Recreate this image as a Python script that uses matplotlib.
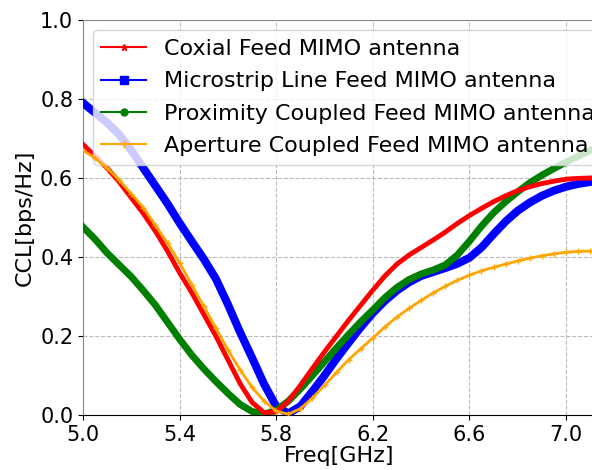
import numpy as np
import matplotlib
matplotlib.use("Agg")
from matplotlib import pyplot as plt
from matplotlib.lines import Line2D

# frequency points (GHz)
freq = [5.00, 5.05, 5.10, 5.15, 5.20, 5.25, 5.30, 5.35, 5.40, 5.45, 5.50,
        5.55, 5.60, 5.65, 5.70, 5.75, 5.80, 5.85, 5.90, 5.95, 6.00, 6.05,
        6.10, 6.15, 6.20, 6.25, 6.30, 6.35, 6.40, 6.45, 6.50, 6.55, 6.60,
        6.65, 6.70, 6.75, 6.80, 6.85, 6.90, 6.95, 7.00, 7.05, 7.10]

ccl_coax = [0.685, 0.655, 0.625, 0.59, 0.55, 0.51, 0.465, 0.415, 0.36, 0.31, 0.255,
            0.20, 0.14, 0.08, 0.032, 0.006, 0.008, 0.035, 0.075, 0.118, 0.16, 0.20,
            0.24, 0.278, 0.316, 0.352, 0.382, 0.405, 0.424, 0.443, 0.463, 0.485, 0.505,
            0.523, 0.54, 0.555, 0.568, 0.578, 0.586, 0.592, 0.597, 0.599, 0.60]

ccl_micro = [0.79, 0.765, 0.74, 0.71, 0.67, 0.625, 0.58, 0.535, 0.486, 0.44, 0.395,
             0.345, 0.28, 0.21, 0.145, 0.078, 0.022, 0.004, 0.022, 0.06, 0.10, 0.143,
             0.183, 0.222, 0.258, 0.289, 0.315, 0.336, 0.352, 0.362, 0.372, 0.383, 0.398,
             0.424, 0.458, 0.49, 0.517, 0.538, 0.555, 0.568, 0.578, 0.585, 0.59]

ccl_prox = [0.476, 0.445, 0.41, 0.38, 0.35, 0.315, 0.278, 0.235, 0.192, 0.152, 0.117,
            0.085, 0.055, 0.027, 0.009, 0.002, 0.012, 0.035, 0.066, 0.10, 0.135, 0.17,
            0.204, 0.236, 0.266, 0.297, 0.323, 0.343, 0.357, 0.367, 0.38, 0.405, 0.44,
            0.478, 0.512, 0.54, 0.565, 0.588, 0.607, 0.624, 0.64, 0.655, 0.67]

ccl_aper = [0.67, 0.65, 0.625, 0.595, 0.56, 0.525, 0.48, 0.435, 0.385, 0.33, 0.275,
            0.22, 0.165, 0.115, 0.07, 0.035, 0.01, 0.002, 0.016, 0.043, 0.075, 0.108,
            0.14, 0.168, 0.195, 0.223, 0.248, 0.27, 0.29, 0.309, 0.326, 0.341, 0.354,
            0.365, 0.374, 0.382, 0.39, 0.397, 0.403, 0.408, 0.412, 0.414, 0.415]

labels = ["Coxial Feed MIMO antenna", "Microstrip Line Feed MIMO antenna",
          "Proximity Coupled Feed MIMO antenna", "Aperture Coupled Feed MIMO antenna"]
xticks = [5.0, 5.4, 5.8, 6.2, 6.6, 7.0]
yticks = [0.0, 0.2, 0.4, 0.6, 0.8, 1.0]

fig = plt.figure(figsize=(5.92, 4.70), dpi=100)
ax = fig.add_axes([83/592, 55/470, 512/592, 395/470])

ax.plot(freq, ccl_micro, color="blue", lw=5.8, solid_joinstyle="round", zorder=3)
ax.plot(freq, ccl_prox, color="green", lw=5.0, solid_joinstyle="round", zorder=4)
ax.plot(freq, ccl_coax, color="red", lw=3.5, solid_joinstyle="round", zorder=5)
ax.plot(freq, ccl_aper, color="orange", lw=2.0, marker="+", ms=5, zorder=6)

ax.set_xlim(5.0, 7.12)
ax.set_ylim(0.0, 1.0)
ax.set_xticks(xticks)
ax.set_yticks(yticks)
ax.tick_params(labelsize=15)
ax.grid(True, linestyle="--", color="#bbbbbb", linewidth=0.8)
ax.set_xlabel("Freq[GHz]", fontsize=16, labelpad=1)
ax.set_ylabel("CCL[bps/Hz]", fontsize=16)
for s in ["left", "top"]:
    ax.spines[s].set_color("#888888")

handles = [Line2D([], [], color="red", marker="*", ms=5),
           Line2D([], [], color="blue", marker="s", ms=6),
           Line2D([], [], color="green", marker="o", ms=5),
           Line2D([], [], color="orange", marker="+", ms=6)]
leg = ax.legend(handles, labels, loc="upper left", bbox_to_anchor=(0.01, 0.985),
                fontsize=16, framealpha=0.8, borderaxespad=0.2, labelspacing=0.55)
leg.get_frame().set_edgecolor("#cccccc")

fig.savefig("out.png", dpi=100)
